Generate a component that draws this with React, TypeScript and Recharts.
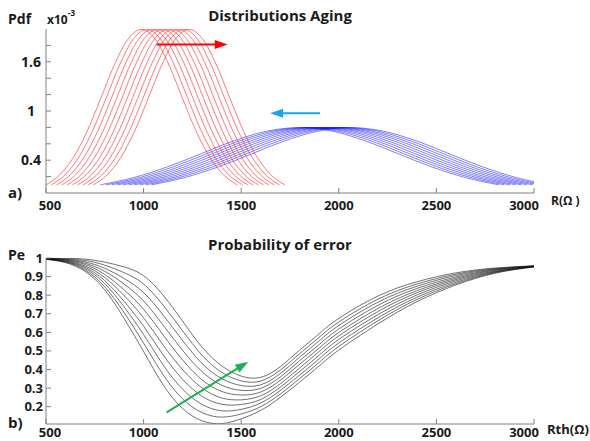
import { LineChart, Line, XAxis, YAxis, ReferenceLine } from 'recharts'

const X_TICKS = [500, 1000, 1500, 2000, 2500, 3000]
const PDF_TICKS = [0.2, 0.4, 0.6, 0.8, 1, 1.2, 1.4, 1.6, 1.8]
const PDF_LABELS = [0.4, 1, 1.6]
const PE_TICKS = [0.2, 0.3, 0.4, 0.5, 0.6, 0.7, 0.8, 0.9, 1]

// red pdf shape (x10^-3) around each mean, and the means as they age
const RED_OFFSETS = [-490, -420, -350, -280, -210, -140, -70, 0, 70, 140, 210, 280, 350, 420, 490]
const RED_PDF = [0.099, 0.22, 0.432, 0.749, 1.15, 1.561, 1.876, 1.995, 1.876, 1.561, 1.15, 0.749, 0.432, 0.22, 0.099]
const RED_MEANS = [990, 1017, 1044, 1071, 1098, 1125, 1152, 1179, 1206, 1233]

const BLUE_OFFSETS = [-1020, -850, -680, -510, -340, -170, 0, 170, 340, 510, 680, 850, 1020]
const BLUE_PDF = [0.1, 0.188, 0.316, 0.474, 0.633, 0.753, 0.798, 0.753, 0.633, 0.474, 0.316, 0.188, 0.1]
const BLUE_MEANS = [2060, 2031, 2002, 1973, 1944, 1915, 1886, 1857, 1828, 1799]

// probability of error vs threshold, one row per aging step
const PE_R = [500, 600, 700, 800, 900, 1000, 1100, 1200, 1300, 1400, 1500, 1600, 1700, 1800, 1900, 2000, 2200, 2400, 2600, 2800, 3000]
const PE_CURVES = [
  [0.993, 0.975, 0.928, 0.830, 0.675, 0.497, 0.318, 0.190, 0.124, 0.109, 0.135, 0.180, 0.250, 0.333, 0.420, 0.505, 0.645, 0.765, 0.855, 0.918, 0.952],
  [0.994, 0.978, 0.935, 0.846, 0.706, 0.542, 0.372, 0.242, 0.168, 0.144, 0.161, 0.200, 0.268, 0.352, 0.439, 0.524, 0.662, 0.777, 0.862, 0.921, 0.953],
  [0.994, 0.980, 0.943, 0.863, 0.737, 0.588, 0.425, 0.294, 0.212, 0.178, 0.186, 0.220, 0.287, 0.371, 0.458, 0.543, 0.678, 0.789, 0.869, 0.924, 0.953],
  [0.995, 0.983, 0.950, 0.879, 0.767, 0.633, 0.479, 0.347, 0.256, 0.213, 0.212, 0.239, 0.305, 0.390, 0.478, 0.562, 0.695, 0.801, 0.877, 0.927, 0.954],
  [0.996, 0.985, 0.957, 0.896, 0.798, 0.678, 0.532, 0.399, 0.300, 0.247, 0.237, 0.259, 0.323, 0.409, 0.497, 0.581, 0.712, 0.813, 0.884, 0.930, 0.955],
  [0.996, 0.988, 0.965, 0.912, 0.829, 0.724, 0.586, 0.451, 0.344, 0.282, 0.263, 0.279, 0.342, 0.429, 0.516, 0.599, 0.728, 0.824, 0.891, 0.934, 0.955],
  [0.997, 0.990, 0.972, 0.929, 0.860, 0.769, 0.639, 0.503, 0.388, 0.316, 0.288, 0.299, 0.360, 0.448, 0.535, 0.618, 0.745, 0.836, 0.898, 0.937, 0.956],
  [0.998, 0.993, 0.979, 0.945, 0.890, 0.814, 0.693, 0.556, 0.432, 0.351, 0.314, 0.318, 0.378, 0.467, 0.555, 0.637, 0.762, 0.848, 0.906, 0.940, 0.957],
  [0.998, 0.995, 0.987, 0.962, 0.921, 0.860, 0.746, 0.608, 0.476, 0.385, 0.339, 0.338, 0.397, 0.486, 0.574, 0.656, 0.778, 0.860, 0.913, 0.943, 0.957],
  [0.999, 0.998, 0.994, 0.978, 0.952, 0.905, 0.800, 0.660, 0.520, 0.420, 0.365, 0.358, 0.415, 0.505, 0.593, 0.675, 0.795, 0.872, 0.920, 0.946, 0.958],
]

const FONT = "'Open Sans', sans-serif"
const AXIS_GRAY = '#808080'

const shiftCurve = (offsets: number[], pdf: number[], mean: number) =>
  offsets.map((o, k) => ({ x: mean + o, y: pdf[k] }))

const peRows = PE_R.map((r, k) => {
  const row: Record<string, number> = { r }
  PE_CURVES.forEach((c, i) => { row['p' + i] = c[k] })
  return row
})

function Arrow(props: any) {
  const { x1, y1, x2, y2, stroke } = props
  const dx = x2 - x1
  const dy = y2 - y1
  const len = Math.hypot(dx, dy) || 1
  const ux = dx / len
  const uy = dy / len
  const hl = 13
  const hw = 4.5
  const bx = x2 - ux * hl
  const by = y2 - uy * hl
  const pts = `${x2},${y2} ${bx - uy * hw},${by + ux * hw} ${bx + uy * hw},${by - ux * hw}`
  return (
    <g>
      <line x1={x1} y1={y1} x2={bx + ux} y2={by + uy} stroke={stroke} strokeWidth={2} />
      <polygon points={pts} fill={stroke} />
    </g>
  )
}

function XTick(props: any) {
  const { x, y, payload, dy } = props
  const v = payload.value
  const shift = v === 500 ? 4 : v === 3000 ? -10 : 0
  return (
    <text x={x + shift} y={y + dy} textAnchor="middle" fontFamily={FONT} fontWeight={700} fontSize={13} fill="#1a1a1a">
      {v}
    </text>
  )
}

function PdfTick(props: any) {
  const { y, payload } = props
  if (!PDF_LABELS.includes(payload.value)) return <g />
  return (
    <text x={31} y={y + 5} textAnchor="middle" fontFamily={FONT} fontWeight={700} fontSize={14} fill="#1a1a1a">
      {payload.value}
    </text>
  )
}

function PeTick(props: any) {
  const { y, payload } = props
  const dy = payload.value === 1 ? 5 : 4.5
  return (
    <text x={43} y={y + dy} textAnchor="end" fontFamily={FONT} fontWeight={700} fontSize={13} fill="#1a1a1a">
      {payload.value}
    </text>
  )
}

function DistributionsChart() {
  return (
    <LineChart width={590} height={220} margin={{ top: 29, right: 56, bottom: 0, left: 6 }}>
      <XAxis xAxisId={0} dataKey="x" type="number" domain={[500, 3000]} ticks={X_TICKS} interval={0} allowDataOverflow
        height={27} tickSize={-5} tickMargin={5}
        axisLine={{ stroke: AXIS_GRAY }} tickLine={{ stroke: AXIS_GRAY }}
        tick={(p: any) => <XTick {...p} dy={17} />} />
      <XAxis xAxisId="top" orientation="top" type="number" domain={[500, 3000]} ticks={X_TICKS} interval={0}
        height={0} tickSize={-5} tick={false} axisLine={{ stroke: AXIS_GRAY }} tickLine={{ stroke: AXIS_GRAY }} />
      <YAxis yAxisId={0} type="number" domain={[0, 2]} ticks={PDF_TICKS} interval={0} allowDataOverflow
        width={40} tickSize={-5} tickMargin={5} axisLine={{ stroke: AXIS_GRAY }} tickLine={{ stroke: AXIS_GRAY }}
        tick={(p: any) => <PdfTick {...p} />} />
      <YAxis yAxisId="right" orientation="right" type="number" domain={[0, 2]} ticks={PDF_TICKS} interval={0}
        width={0} tickSize={-5} tick={false} axisLine={{ stroke: AXIS_GRAY }} tickLine={{ stroke: AXIS_GRAY }} />
      {BLUE_MEANS.map((m, i) => (
        <Line key={'b' + i} data={shiftCurve(BLUE_OFFSETS, BLUE_PDF, m)} dataKey="y" type="monotone"
          stroke="#0000ff" strokeWidth={0.5} dot={false} isAnimationActive={false} />
      ))}
      {RED_MEANS.map((m, i) => (
        <Line key={'r' + i} data={shiftCurve(RED_OFFSETS, RED_PDF, m)} dataKey="y" type="monotone"
          stroke="#ff2020" strokeWidth={0.6} dot={false} isAnimationActive={false} />
      ))}
      <ReferenceLine segment={[{ x: 1067, y: 1.81 }, { x: 1431, y: 1.81 }]} stroke="#ff0000" shape={Arrow} ifOverflow="visible" />
      <ReferenceLine segment={[{ x: 1904, y: 0.972 }, { x: 1648, y: 0.972 }]} stroke="#1aa7e2" shape={Arrow} ifOverflow="visible" />
    </LineChart>
  )
}

function ErrorChart() {
  return (
    <LineChart width={590} height={221} data={peRows} margin={{ top: 38, right: 56, bottom: 0, left: 6 }}>
      <XAxis xAxisId={0} dataKey="r" type="number" domain={[500, 3000]} ticks={X_TICKS} interval={0} allowDataOverflow
        height={17} tickSize={-5} tickMargin={5}
        axisLine={{ stroke: AXIS_GRAY }} tickLine={{ stroke: AXIS_GRAY }}
        tick={(p: any) => <XTick {...p} dy={13} />} />
      <XAxis xAxisId="top" orientation="top" type="number" domain={[500, 3000]} ticks={X_TICKS} interval={0}
        height={0} tickSize={-5} tick={false} axisLine={{ stroke: AXIS_GRAY }} tickLine={{ stroke: AXIS_GRAY }} />
      <YAxis yAxisId={0} type="number" domain={[0.107, 1]} ticks={PE_TICKS} interval={0} allowDataOverflow
        width={40} tickSize={-5} tickMargin={5} axisLine={{ stroke: AXIS_GRAY }} tickLine={{ stroke: AXIS_GRAY }}
        tick={(p: any) => <PeTick {...p} />} />
      <YAxis yAxisId="right" orientation="right" type="number" domain={[0.107, 1]} ticks={PE_TICKS} interval={0}
        width={0} tickSize={-5} tick={false} axisLine={{ stroke: AXIS_GRAY }} tickLine={{ stroke: AXIS_GRAY }} />
      {PE_CURVES.map((_, i) => (
        <Line key={'p' + i} dataKey={'p' + i} type="natural" stroke="#111" strokeWidth={0.6}
          dot={false} isAnimationActive={false} />
      ))}
      <ReferenceLine segment={[{ x: 1118, y: 0.17 }, { x: 1536, y: 0.442 }]} stroke="#1db153" shape={Arrow} ifOverflow="visible" />
    </LineChart>
  )
}

export default function App() {
  const txt = { fontFamily: FONT, fontWeight: 700, fill: '#1a1a1a' }
  return (
    <div style={{ position: 'absolute', left: 0, top: 0, width: 590, height: 441, background: '#fff', overflow: 'hidden' }}>
      <div style={{ position: 'absolute', left: 0, top: 0 }}>
        <DistributionsChart />
      </div>
      <div style={{ position: 'absolute', left: 0, top: 220 }}>
        <ErrorChart />
      </div>
      <svg width={590} height={441} style={{ position: 'absolute', left: 0, top: 0, pointerEvents: 'none' }}>
        <text x={280} y={21} textAnchor="middle" fontSize={15} {...txt}>Distributions Aging</text>
        <text x={8} y={24} fontSize={14} {...txt}>Pdf</text>
        <text x={47} y={24} fontSize={12} {...txt}>x10</text>
        <text x={68} y={16} fontSize={8} {...txt}>-3</text>
        <text x={8} y={198} fontSize={15} {...txt}>a)</text>
        <text x={551} y={205} fontSize={12} {...txt}>R(Ω )</text>
        <text x={280} y={250} textAnchor="middle" fontSize={15} {...txt}>Probability of error</text>
        <text x={8} y={260} fontSize={14} {...txt}>Pe</text>
        <text x={8} y={428} fontSize={15} {...txt}>b)</text>
        <text x={547} y={434} fontSize={13} {...txt}>Rth(Ω)</text>
      </svg>
    </div>
  )
}
